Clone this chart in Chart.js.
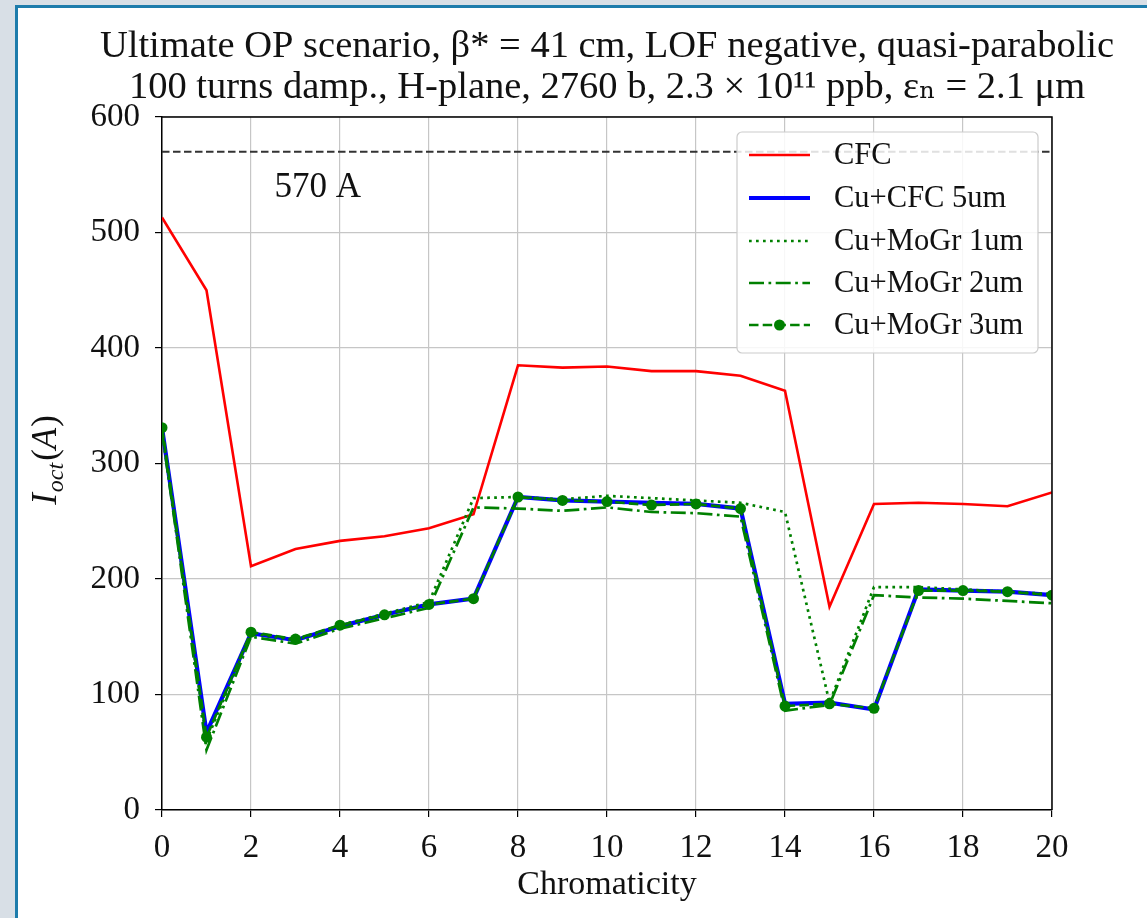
<!DOCTYPE html>
<html><head><meta charset="utf-8">
<script src="https://cdn.jsdelivr.net/npm/chart.js@4/dist/chart.umd.min.js"></script>
<style>
html,body{margin:0;padding:0;background:#d8dfe6;width:1147px;height:918px;overflow:hidden}
#frame{position:absolute;left:15px;top:5px;width:1132px;height:913px;background:#fff;border-left:3px solid #1d7cab;border-top:3px solid #1d7cab;box-sizing:border-box}
#c{position:absolute;left:0;top:0}
</style></head>
<body>
<div id="frame"><canvas id="c" width="1129" height="910"></canvas></div>
<script>
// ---- data ----
const chroma = [0,1,2,3,4,5,6,7,8,9,10,11,12,13,14,15,16,17,18,19,20];
const cfc     = [513,450,211,226,233,237,244,256,385,383,384,380,380,376,363,176,265,266,265,263,275];
const cuCfc5  = [331,67,153,147,159,169,178,183,271,268,267,266,265,261,92,93,87,191,190,189,186];
const cuMoGr1 = [330,60,153,147,160,170,180,270,271,269,272,270,268,266,258,93,193,193,191,189,187];
const cuMoGr2 = [328,52,150,144,157,166,175,262,261,259,262,258,257,254,86,91,186,184,183,181,179];
const cuMoGr3 = [331,63,154,148,160,169,178,183,271,268,267,264,265,261,90,92,88,190,190,189,186];
const threshold = 570;
const thresholdLabel = "570 A";
const seriesNames = ["CFC","Cu+CFC 5um","Cu+MoGr 1um","Cu+MoGr 2um","Cu+MoGr 3um"];
const titleLines = ["Ultimate OP scenario, β* = 41 cm, LOF negative, quasi-parabolic",
                    "100 turns damp., H-plane, 2760 b, 2.3 × 10¹¹ ppb, εₙ = 2.1 μm"];
const xTitle = "Chromaticity";
const xTicks = {min:0, max:20, step:2};
const yTicks = {min:0, max:600, step:100};

const FONT = '"Liberation Serif","DejaVu Serif",serif';
const pts = arr => arr.map((v,i)=>({x:chroma[i], y:v}));

const datasets = [
  {label:seriesNames[0], data:pts(cfc), borderColor:'#ff0000', borderWidth:2.6, pointRadius:0, order:6},
  {label:seriesNames[1], data:pts(cuCfc5), borderColor:'#0000ff', borderWidth:4.2, pointRadius:0, order:5},
  {label:seriesNames[2], data:pts(cuMoGr1), borderColor:'#008000', borderWidth:2.7, borderDash:[2.7,4.3], pointRadius:0, order:4},
  {label:seriesNames[3], data:pts(cuMoGr2), borderColor:'#008000', borderWidth:2.7, borderDash:[15,4.5,2.7,4.5], pointRadius:0, order:3},
  {label:seriesNames[4], data:pts(cuMoGr3), borderColor:'#008000', borderWidth:2.7, borderDash:[9.5,4.2], pointRadius:5.5, pointBackgroundColor:'#008000', pointBorderColor:'#008000', pointBorderWidth:0, order:2},
  {label:'threshold', data:[{x:xTicks.min,y:threshold},{x:xTicks.max,y:threshold}], borderColor:'#333333', borderWidth:2, borderDash:[7.5,3.5], pointRadius:0, order:1, isRef:true}
];

const extras = {
  id:'extras',
  afterDraw(chart){
    const ctx = chart.ctx, a = chart.chartArea, xs = chart.scales.x, ys = chart.scales.y;
    ctx.save();
    // top & right spines
    ctx.strokeStyle='#000'; ctx.lineWidth=1.5;
    ctx.beginPath(); ctx.moveTo(a.left,a.top); ctx.lineTo(a.right,a.top); ctx.lineTo(a.right,a.bottom); ctx.stroke();
    // title, centred over the axes like matplotlib
    ctx.fillStyle='#111'; ctx.font='38.5px '+FONT; ctx.textAlign='center'; ctx.textBaseline='middle';
    const cx=(a.left+a.right)/2;
    ctx.fillText(titleLines[0], cx, 39);
    ctx.fillText(titleLines[1], cx, 80);
    // threshold label
    ctx.font='35px '+FONT;
    ctx.fillText(thresholdLabel, xs.getPixelForValue(3.5), ys.getPixelForValue(539));
    // y-axis title  I_oct(A)
    ctx.translate(27, 452); ctx.rotate(-Math.PI/2);
    const f1='italic 35px '+FONT, f2='italic 24px '+FONT, f3='35px '+FONT;
    ctx.textAlign='left'; ctx.textBaseline='alphabetic';
    ctx.font=f1; const wI=ctx.measureText('I').width;
    ctx.font=f2; const wS=ctx.measureText('oct').width;
    ctx.font=f3; const wP=ctx.measureText('(').width;
    ctx.font=f1; const wA=ctx.measureText('A').width;
    const tot=wI+wS+2*wP+wA+4; let x=-tot/2; const base=11;
    ctx.font=f1; ctx.fillText('I',x,base); x+=wI+1;
    ctx.font=f2; ctx.fillText('oct',x,base+7); x+=wS+2;
    ctx.font=f3; ctx.fillText('(',x,base); x+=wP;
    ctx.font=f1; ctx.fillText('A',x,base); x+=wA+1;
    ctx.font=f3; ctx.fillText(')',x,base);
    ctx.restore();
    // legend
    ctx.save();
    const L=719, T=124, W=301, H=221, r=5;
    ctx.fillStyle='rgba(255,255,255,0.85)'; ctx.strokeStyle='#cccccc'; ctx.lineWidth=1.2;
    ctx.beginPath(); ctx.roundRect(L,T,W,H,r); ctx.fill(); ctx.stroke();
    const rowY=[147,190,233,275,317];
    ctx.font='30.5px '+FONT; ctx.textAlign='left'; ctx.textBaseline='middle';
    chart.data.datasets.filter(d=>!d.isRef).forEach((d,i)=>{
      const y=rowY[i];
      ctx.strokeStyle=d.borderColor; ctx.lineWidth=d.borderWidth; ctx.setLineDash(d.borderDash||[]);
      ctx.beginPath(); ctx.moveTo(731,y); ctx.lineTo(792,y); ctx.stroke(); ctx.setLineDash([]);
      if(d.pointRadius>0){ctx.fillStyle=d.borderColor; ctx.beginPath(); ctx.arc(761.5,y,d.pointRadius,0,Math.PI*2); ctx.fill();}
      ctx.fillStyle='#111'; ctx.fillText(d.label,816,y+1);
    });
    ctx.restore();
  }
};

new Chart(document.getElementById('c'), {
  type:'line',
  data:{datasets},
  options:{
    responsive:false, animation:false,
    layout:{padding:{left:0,right:95,top:109,bottom:16}},
    elements:{line:{tension:0, fill:false}},
    plugins:{ legend:{display:false}, tooltip:{enabled:false}, title:{display:false} },
    scales:{
      x:{type:'linear', min:xTicks.min, max:xTicks.max,
         ticks:{stepSize:xTicks.step, color:'#111', font:{family:FONT,size:33,lineHeight:1.0}, padding:15, maxRotation:0},
         grid:{color:'#c6c6c6', lineWidth:1.2, tickColor:'#000', tickLength:7},
         border:{color:'#000', width:1.5},
         title:{display:true, text:xTitle, color:'#111', font:{family:FONT,size:34,lineHeight:1.0}, padding:{top:0,bottom:0}},
         afterFit(s){ s.height=92; }},
      y:{min:yTicks.min, max:yTicks.max,
         ticks:{stepSize:yTicks.step, color:'#111', font:{family:FONT,size:33}, padding:15},
         grid:{color:'#c6c6c6', lineWidth:1.2, tickColor:'#000', tickLength:7},
         border:{color:'#000', width:1.5},
         afterFit(s){ s.width=144; }}
    }
  },
  plugins:[extras]
});
</script>
</body></html>
